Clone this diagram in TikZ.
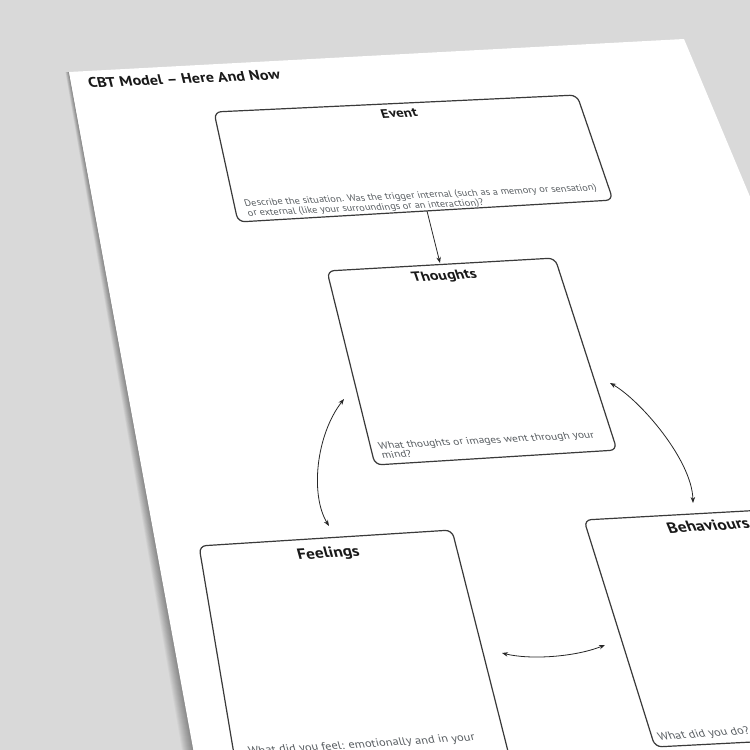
\documentclass[tikz,border=0pt]{standalone}
\usepackage{fontspec}
\setmainfont{PT Sans}
\usetikzlibrary{arrows.meta}
\definecolor{bg}{HTML}{D9D9D9}
\definecolor{hint}{HTML}{5A5F63}
\definecolor{edge}{HTML}{3A3A3A}
\newcommand\tightlines{\setlength{\lineskiplimit}{-20pt}}
\tikzset{
  panel/.style={draw=edge, line width=1.2pt, rounded corners=7pt, fill=white},
  head/.style={text=black!90, inner sep=0pt},
  hint/.style={text=hint, inner sep=0pt, align=left},
  link/.style={draw=black!85, line width=0.8pt, >={Stealth[length=6pt,width=4.5pt]}}
}
\begin{document}
\begin{tikzpicture}[x=1pt,y=-1pt]
  \useasboundingbox (0,0) rectangle (750,750);
  \clip (0,0) rectangle (750,750);
  \fill[bg] (0,0) rectangle (750,750);
  %shadow of the sheet
  \foreach \d in {1,...,12}
    \fill[black,opacity=0.035] (69,72) -- (194,750) -- ({194-\d},750) -- ({69-0.3*\d},72) -- cycle;
  %sheet
  \fill[white] (69,72) -- (684,39) -- (990,770) -- (197,770) -- cycle;
  \node[head, font={\fontsize{14}{14}\bfseries\selectfont}, rotate=2.5, xslant=-0.2, xscale=1.15, anchor=west] (title) at (88,83) {CBT Model – Here And Now};

  % boxes
  \draw[panel] (214,112) -- (577,95) -- (613,200) -- (238,222) -- cycle;
  \draw[panel] (327,271) -- (555,258) -- (617,450) -- (375,465) -- cycle;
  \draw[panel] (199,546) -- (452,530) -- (514,775) -- (240,790) -- cycle;
  \draw[panel] (584,520) -- (800,508) -- (830,738) -- (655,747) -- cycle;

  % titles
  \node[head, font={\fontsize{12.5}{13}\bfseries\selectfont}, rotate=2.7, xslant=-0.28, xscale=1.2] (event) at (399,113) {Event};
  \node[head, font={\fontsize{13.5}{14}\bfseries\selectfont}, rotate=3.3, xslant=-0.28, xscale=1.18] (thoughts) at (444.5,276.5) {Thoughts};
  \node[head, font={\fontsize{15}{15}\bfseries\selectfont}, rotate=3.5, xslant=-0.21, xscale=1.15] (feelings) at (328.5,554) {Feelings};
  \node[head, font={\fontsize{15}{15}\bfseries\selectfont}, rotate=3.5, xslant=-0.34, xscale=1.15, anchor=west] (behaviours) at (667,528) {Behaviours};

  % prompts
  \node[hint, font={\fontsize{9.5}{10}\selectfont\tightlines}, rotate=2.6, xslant=-0.28, xscale=1.09, anchor=north west] (event-q) at (243,199.5)
    {Describe the situation. Was the trigger internal (such as a memory or sensation)\\or external (like your surroundings or an interaction)?};
  \node[hint, font={\fontsize{10}{9.5}\selectfont\tightlines}, rotate=3, xslant=-0.28, xscale=1.14, anchor=north west] (thoughts-q) at (377,442)
    {What thoughts or images went through your\\mind?};
  \node[hint, font={\fontsize{11}{12}\selectfont}, rotate=3.6, xslant=-0.21, xscale=1.13, anchor=north west] (feelings-q) at (247,747)
    {What did you feel: emotionally and in your};
  \node[hint, font={\fontsize{11}{12}\selectfont}, rotate=4.5, xslant=-0.34, xscale=1.12, anchor=north west] (behaviours-q) at (656,733)
    {What did you do?};

  % arrow ends
  \coordinate (ev-out) at (427,211);
  \coordinate (th-in) at (440,263);
  \coordinate (th-left) at (344,399);
  \coordinate (fe-up) at (329,526);
  \coordinate (th-right) at (610,383);
  \coordinate (be-up) at (693,503);
  \coordinate (fe-right) at (502,653);
  \coordinate (be-left) at (605,645);

  \draw[link,->] (ev-out) -- (th-in);
  \draw[link,<->] (th-left) .. controls (316,435) and (310,495) .. (fe-up);
  \draw[link,<->] (th-right) .. controls (640,400) and (692,460) .. (be-up);
  \draw[link,<->] (fe-right) .. controls (530,660) and (575,657) .. (be-left);
\end{tikzpicture}
\end{document}
